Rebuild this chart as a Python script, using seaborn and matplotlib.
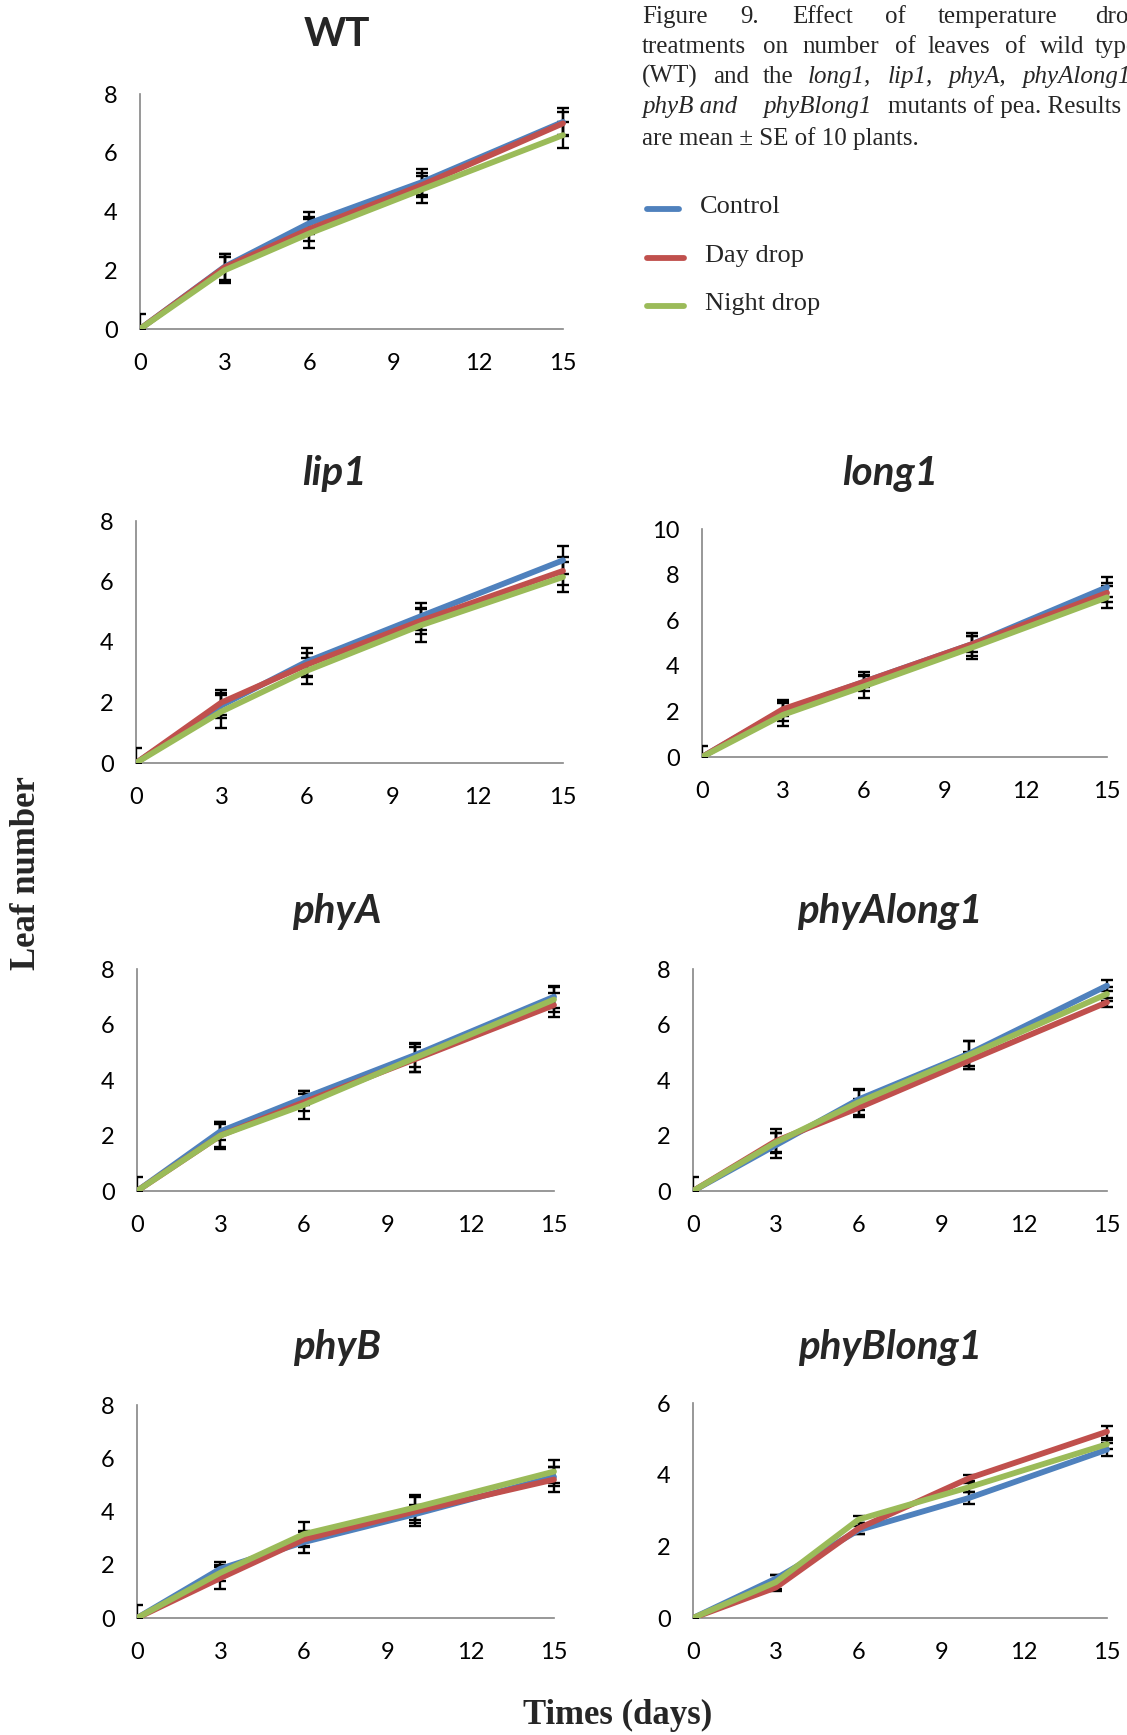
import matplotlib
matplotlib.use("Agg")
import matplotlib.pyplot as plt
from matplotlib.lines import Line2D
import pandas as pd
import seaborn as sns

# ---------------------------------------------------------------- data
days = [0, 3, 6, 10, 15]
treatments = ["Control", "Day drop", "Night drop"]
palette = {"Control": "#4F81BD", "Day drop": "#C0504D", "Night drop": "#9BBB59"}

# WT
wt_control = [0, 2.12, 3.6, 5.0, 7.05]
wt_day = [0, 2.1, 3.4, 4.9, 7.0]
wt_night = [0, 2.0, 3.25, 4.75, 6.6]
wt_control_se = [0.5, 0.45, 0.37, 0.45, 0.47]
wt_day_se = [0, 0.45, 0.42, 0.4, 0.4]
wt_night_se = [0, 0.45, 0.5, 0.47, 0.45]

# lip1
lip1_control = [0, 1.9, 3.35, 4.85, 6.7]
lip1_day = [0, 2.0, 3.25, 4.7, 6.35]
lip1_night = [0, 1.7, 3.05, 4.55, 6.15]
lip1_control_se = [0.5, 0.4, 0.46, 0.45, 0.46]
lip1_day_se = [0, 0.42, 0.4, 0.44, 0.47]
lip1_night_se = [0, 0.55, 0.43, 0.55, 0.49]

# long1
long1_control = [0, 2.05, 3.3, 4.95, 7.45]
long1_day = [0, 2.1, 3.3, 4.95, 7.2]
long1_night = [0, 1.85, 3.1, 4.8, 7.0]
long1_control_se = [0.5, 0.47, 0.42, 0.5, 0.45]
long1_day_se = [0, 0.3, 0.25, 0.35, 0.42]
long1_night_se = [0, 0.5, 0.5, 0.5, 0.48]

# phyA
phya_control = [0, 2.15, 3.35, 4.9, 7.0]
phya_day = [0, 2.0, 3.2, 4.75, 6.7]
phya_night = [0, 2.0, 3.1, 4.8, 6.9]
phya_control_se = [0.5, 0.32, 0.25, 0.42, 0.4]
phya_day_se = [0, 0.4, 0.3, 0.45, 0.44]
phya_night_se = [0, 0.5, 0.5, 0.5, 0.44]

# phyAlong1
phyalong1_control = [0, 1.65, 3.3, 4.95, 7.4]
phyalong1_day = [0, 1.8, 3.0, 4.7, 6.8]
phyalong1_night = [0, 1.75, 3.2, 4.9, 7.1]
phyalong1_control_se = [0.5, 0.45, 0.38, 0.45, 0.2]
phyalong1_day_se = [0, 0.42, 0.32, 0.3, 0.16]
phyalong1_night_se = [0, 0.35, 0.45, 0.5, 0.25]

# phyB
phyb_control = [0, 1.85, 2.85, 3.9, 5.3]
phyb_day = [0, 1.5, 2.95, 4.0, 5.2]
phyb_night = [0, 1.7, 3.15, 4.15, 5.5]
phyb_control_se = [0.5, 0.25, 0.4, 0.35, 0.36]
phyb_day_se = [0, 0.42, 0.28, 0.53, 0.46]
phyb_night_se = [0, 0.3, 0.46, 0.48, 0.43]

# phyBlong1
phyblong1_control = [0, 1.1, 2.45, 3.35, 4.7]
phyblong1_day = [0, 0.85, 2.5, 3.9, 5.2]
phyblong1_night = [0, 1.0, 2.75, 3.65, 4.85]
phyblong1_control_se = [0, 0.1, 0.11, 0.17, 0.18]
phyblong1_day_se = [0, 0.09, 0.15, 0.08, 0.17]
phyblong1_night_se = [0, 0.19, 0.1, 0.12, 0.12]

# ---------------------------------------------------------------- style
sns.set_style("white")
plt.rcParams["font.family"] = ["Lato", "DejaVu Sans"]

W, H = 1127, 1735
fig = plt.figure(figsize=(W / 100, H / 100), dpi=100)
fig.patch.set_facecolor("white")

SPINE = "#868686"
XMAX = 15.5  # a little room so the day-15 caps are not clipped
SERIF = ["Liberation Serif", "DejaVu Serif"]


def make_axes(x0, x15, ytop, ybot):
    width = (x15 - x0) * XMAX / 15.0
    return fig.add_axes([x0 / W, 1 - ybot / H, width / W, (ybot - ytop) / H])


panels = [
    ("WT", False, [wt_control, wt_day, wt_night],
     [wt_control_se, wt_day_se, wt_night_se], 8, (140, 563, 94, 329)),
    ("lip1", True, [lip1_control, lip1_day, lip1_night],
     [lip1_control_se, lip1_day_se, lip1_night_se], 8, (136, 563, 521, 763)),
    ("long1", True, [long1_control, long1_day, long1_night],
     [long1_control_se, long1_day_se, long1_night_se], 10, (702, 1107, 529, 757)),
    ("phyA", True, [phya_control, phya_day, phya_night],
     [phya_control_se, phya_day_se, phya_night_se], 8, (137, 554, 969, 1191)),
    ("phyAlong1", True, [phyalong1_control, phyalong1_day, phyalong1_night],
     [phyalong1_control_se, phyalong1_day_se, phyalong1_night_se], 8,
     (693, 1107, 969, 1191)),
    ("phyB", True, [phyb_control, phyb_day, phyb_night],
     [phyb_control_se, phyb_day_se, phyb_night_se], 8, (137, 554, 1405, 1618)),
    ("phyBlong1", True, [phyblong1_control, phyblong1_day, phyblong1_night],
     [phyblong1_control_se, phyblong1_day_se, phyblong1_night_se], 6,
     (693, 1107, 1403, 1618)),
]

title_centres = {"WT": (337, 34), "lip1": (334, 474), "long1": (890, 474),
                 "phyA": (337, 911), "phyAlong1": (890, 911),
                 "phyB": (337, 1348), "phyBlong1": (890, 1348)}

for title, italic, means, ses, ymax, box in panels:
    ax = make_axes(*box)
    frames = [pd.DataFrame({"day": days, "leaves": m, "treatment": n})
              for n, m in zip(treatments, means)]
    df = pd.concat(frames, ignore_index=True)
    for m, s in zip(means, ses):
        ax.errorbar(days, m, yerr=s, fmt="none", ecolor="black",
                    elinewidth=1.7, capsize=4.2, capthick=1.7, zorder=2.6)
    sns.lineplot(data=df, x="day", y="leaves", hue="treatment",
                 hue_order=treatments, palette=palette, linewidth=4.2,
                 errorbar=None, legend=False, sort=False, ax=ax, zorder=3)
    ax.set_xlim(0, XMAX)
    ax.set_ylim(0, ymax)
    ax.set_xticks([0, 3, 6, 9, 12, 15])
    ax.set_yticks(list(range(0, ymax + 1, 2)))
    ax.set_xlabel("")
    ax.set_ylabel("")
    for side in ("top", "right"):
        ax.spines[side].set_visible(False)
    for side in ("left", "bottom"):
        ax.spines[side].set_color(SPINE)
        ax.spines[side].set_linewidth(1.2)
    ax.spines["bottom"].set_bounds(0, 15)
    ax.tick_params(axis="both", direction="out", length=6, width=1.2,
                   color=SPINE, labelsize=17, labelcolor="black")
    ax.tick_params(axis="y", pad=10)
    ax.tick_params(axis="x", pad=11)
    ax.set_facecolor("none")

    tx, ty = title_centres[title]
    fig.text(tx / W, 1 - ty / H, title, ha="center", va="center",
             fontsize=29, fontweight="bold",
             fontstyle="italic" if italic else "normal",
             family=["Lato", "DejaVu Sans"])

# ---------------------------------------------------------------- axis titles
fig.text(27 / W, 1 - 873 / H, "Leaf number", rotation=90, ha="center",
         va="center", fontsize=25, fontweight="bold", family=SERIF)
fig.text(618 / W, 1 - 1715 / H, "Times (days)", ha="center", va="center",
         fontsize=25, fontweight="bold", family=SERIF)

# ---------------------------------------------------------------- caption
caption = [
    (23, [(642, "Figure", "normal"), (740, "9.", "normal"),
          (792, "Effect", "normal"), (885, "of", "normal"),
          (938, "temperature", "normal"), (1095, "drop", "normal")]),
    (53, [(642, "treatments", "normal"), (763, "on", "normal"),
          (802, "number", "normal"), (895, "of", "normal"),
          (927, "leaves", "normal"), (1005, "of", "normal"),
          (1040, "wild", "normal"), (1095, "type", "normal")]),
    (83, [(642, "(WT)", "normal"), (713, "and", "normal"),
          (763, "the", "normal"), (808, "long1,", "italic"),
          (888, "lip1,", "italic"), (948, "phyA,", "italic"),
          (1022, "phyAlong1,", "italic")]),
    (113, [(642, "phyB and", "italic"), (763, "phyBlong1", "italic"),
           (888, "mutants of pea. Results", "normal")]),
    (145, [(642, "are mean \u00b1 SE of 10 plants.", "normal")]),
]
for base, runs in caption:
    for x, word, style in runs:
        fig.text(x / W, 1 - base / H, word, ha="left", va="baseline",
                 fontsize=18, fontstyle=style, family=SERIF)

# ---------------------------------------------------------------- legend
legend_rows = [("Control", 647, 679, 209, 700),
               ("Day drop", 647, 684, 258, 705),
               ("Night drop", 647, 684, 306, 705)]
for name, xa, xb, y, xt in legend_rows:
    fig.add_artist(Line2D([xa / W, xb / W], [1 - y / H, 1 - y / H],
                          color=palette[name], linewidth=4.2,
                          transform=fig.transFigure))
    fig.text(xt / W, 1 - (y - 2) / H, name, ha="left", va="center",
             fontsize=19, family=SERIF)

fig.savefig("out.png", dpi=100, facecolor="white")
